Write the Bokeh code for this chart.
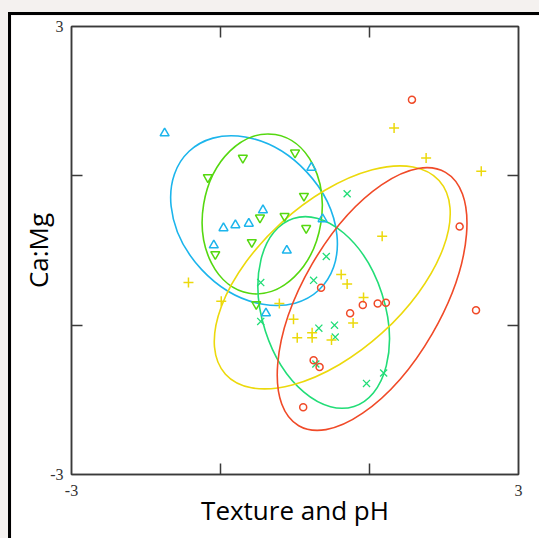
from bokeh.plotting import figure
from bokeh.models import FixedTicker, LinearAxis
from bokeh.layouts import column
from bokeh.embed import file_html
from bokeh.resources import INLINE

# ---- data ----
cyan_x = [-1.75, 0.22, -0.43, -0.62, -0.80, -0.96, -1.09, 0.37, -0.11, -0.39]
cyan_y = [1.57, 1.11, 0.54, 0.36, 0.34, 0.30, 0.07, 0.42, 0.00, -0.84]

green_x = [0.00, -0.70, -1.17, 0.12, -0.14, 0.15, -0.47, -0.58, -1.07, -0.52]
green_y = [1.31, 1.24, 0.98, 0.73, 0.46, 0.30, 0.44, 0.11, -0.05, -0.72]

spring_x = [0.70, 0.42, 0.25, 0.32, 0.53, 0.54, 0.28, 1.19, 0.96, -0.46, -0.46]
spring_y = [0.76, -0.08, -0.40, -1.04, -1.00, -1.16, -1.52, -1.64, -1.78, -0.43, -0.95]

yellow_x = [1.33, 1.76, 2.50, 1.17, 0.62, 0.70, 0.92, 0.78, 0.23, 0.23, 0.49,
            -1.43, -0.99, -0.21, -0.02, 0.03]
yellow_y = [1.64, 1.24, 1.06, 0.19, -0.32, -0.45, -0.63, -0.97, -1.10, -1.17, -1.20,
            -0.43, -0.68, -0.71, -0.92, -1.17]

red_x = [1.57, 2.21, 2.43, 0.35, 0.91, 1.11, 1.22, 0.74, 0.25, 0.33, 0.11]
red_y = [2.02, 0.32, -0.80, -0.50, -0.73, -0.71, -0.70, -0.84, -1.47, -1.56, -2.10]

# ellipses: centre, full major/minor axis, angle (degrees)
ell_names = ["cyan", "green", "spring", "yellow", "red"]
ell_cx = [-0.55, -0.44, 0.385, 0.50, 1.035]
ell_cy = [0.40, 0.49, -0.83, -0.36, -0.65]
ell_w = [2.55, 2.16, 2.65, 3.87, 3.93]
ell_h = [1.92, 1.59, 1.64, 2.00, 1.86]
ell_ang = [-46.9, 80.6, -72.1, 42.2, 59.9]

colors = {"cyan": "#1cb5ec", "green": "#55d810", "spring": "#22dd77",
          "yellow": "#ecd90c", "red": "#f04a28"}

end_ticks = [-3, 3]
end_labels = {-3: "-3", 3: "3"}
inner_ticks = [-1, 1]
x_title = "Texture and pH"
y_title = "Ca:Mg"

FRAME = "#3a3a3a"

p = figure(width=531, height=526, x_range=(-3, 3), y_range=(-3, 3),
           output_backend="svg", toolbar_location=None,
           min_border_left=60, min_border_right=24, min_border_top=11, min_border_bottom=67)
p.grid.visible = False
p.outline_line_color = FRAME
p.outline_line_width = 1.5
p.background_fill_color = "white"
p.border_fill_color = "white"

def style_axis(ax):
    ax.major_tick_line_color = None
    ax.major_tick_in = 0
    ax.major_tick_out = 0
    ax.minor_tick_in = 11
    ax.minor_tick_out = 0
    ax.minor_tick_line_color = FRAME
    ax.minor_tick_line_width = 1.5
    ax.axis_line_color = FRAME
    ax.axis_line_width = 1.5
    ax.major_label_text_font = "Liberation Sans Narrow"
    ax.major_label_text_font_size = "16px"
    ax.major_label_text_color = "#333333"

def style_title(ax, text, standoff):
    ax.axis_label = text
    ax.axis_label_text_font = "Open Sans"
    ax.axis_label_text_font_size = "26px"
    ax.axis_label_text_font_style = "normal"
    ax.axis_label_text_color = "black"
    ax.axis_label_standoff = standoff

xa = p.xaxis[0]
xa.ticker = FixedTicker(ticks=end_ticks, minor_ticks=inner_ticks)
xa.major_label_overrides = end_labels
style_axis(xa)
xa.major_label_standoff = 10
style_title(xa, x_title, -7)

ya = p.yaxis[0]
ya.ticker = FixedTicker(ticks=end_ticks, minor_ticks=inner_ticks)
ya.major_label_overrides = end_labels
ya.major_label_orientation = "horizontal"
style_axis(ya)
ya.major_label_standoff = 8
style_title(ya, y_title, -9)

top = LinearAxis(ticker=FixedTicker(ticks=[], minor_ticks=inner_ticks))
style_axis(top)
p.add_layout(top, "above")
right = LinearAxis(ticker=FixedTicker(ticks=[], minor_ticks=inner_ticks))
style_axis(right)
p.add_layout(right, "right")

# ellipses
for i, n in enumerate(ell_names):
    p.ellipse(x=[ell_cx[i]], y=[ell_cy[i]], width=[ell_w[i]], height=[ell_h[i]],
              angle=[ell_ang[i]], angle_units="deg", fill_color=None,
              line_color=colors[n], line_width=1.6)

p.scatter(cyan_x, cyan_y, marker="triangle", size=9, fill_color=None,
          line_color=colors["cyan"], line_width=1.5)
p.scatter(green_x, green_y, marker="inverted_triangle", size=9, fill_color=None,
          line_color=colors["green"], line_width=1.5)
p.scatter(spring_x, spring_y, marker="x", size=10, fill_color=None,
          line_color=colors["spring"], line_width=1.3)
p.scatter(yellow_x, yellow_y, marker="cross", size=10, fill_color=None,
          line_color=colors["yellow"], line_width=1.5)
p.scatter(red_x, red_y, marker="circle", size=7, fill_color=None,
          line_color=colors["red"], line_width=1.5)

p.margin = (12, 0, 0, 8)
p.styles = {"border-left": "3px solid black", "border-top": "3px solid black"}

layout = column(p, styles={"background-color": "#f4f1ef"})

open("out.html", "w").write(file_html(layout, INLINE))
